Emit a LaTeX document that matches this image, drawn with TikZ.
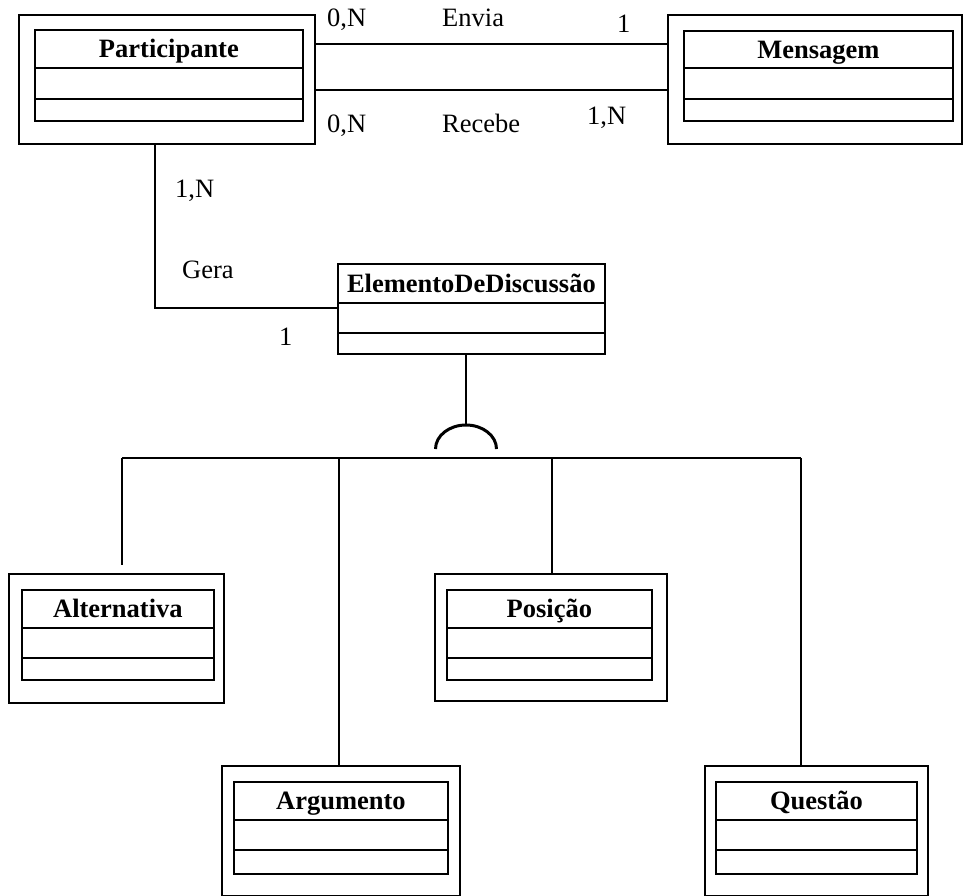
\documentclass[tikz,border=0pt]{standalone}
\usepackage{fontspec}
\setmainfont{Liberation Serif}
\usetikzlibrary{calc}

% outer frame of a class: name, left, top, right, bottom
\newcommand\classframe[5]{%
  \pgfmathsetmacro\clsFrameW{#4-#2}%
  \pgfmathsetmacro\clsFrameH{#5-#3}%
  \node[frame, minimum width=\clsFrameW pt, minimum height=\clsFrameH pt] (#1) at (#2,#3) {};}

% the three compartments: name, title, left, right, top, divider 1, divider 2, bottom
\newcommand\classcells[8]{%
  \pgfmathsetmacro\clsCellW{#4-#3}%
  \pgfmathsetmacro\clsCellHa{#6-#5}%
  \pgfmathsetmacro\clsCellHb{#7-#6}%
  \pgfmathsetmacro\clsCellHc{#8-#7}%
  \node[cell, title, minimum width=\clsCellW pt, minimum height=\clsCellHa pt] (#1-t) at (#3,#5) {#2};
  \node[cell, minimum width=\clsCellW pt, minimum height=\clsCellHb pt] (#1-a) at (#3,#6) {};
  \node[cell, minimum width=\clsCellW pt, minimum height=\clsCellHc pt] (#1-o) at (#3,#7) {};}

\begin{document}
\begin{tikzpicture}[x=1pt,y=-1pt,
  frame/.style={draw, line width=1.8pt, inner sep=0pt, anchor=north west},
  cell/.style={draw, line width=1.8pt, inner sep=0pt, anchor=north west,
    font=\fontsize{26.5}{30}\selectfont\bfseries},
  title/.style={text height=18pt, text depth=0pt},
  link/.style={line width=1.8pt},
  genarc/.style={line width=3pt},
  lbl/.style={anchor=base west, inner sep=0pt, font=\fontsize{26.5}{30}\selectfont}]

\useasboundingbox (0,0) rectangle (963,896);

% classes
\classframe{part}{18}{14}{314}{143}
\classcells{part}{Participante}{34}{302}{29}{67}{98}{120}

\classframe{msg}{667}{14}{961}{143}
\classcells{msg}{Mensagem}{683}{952}{30}{67}{98}{120}

\classcells{elem}{ElementoDeDiscussão}{337}{604}{263}{302}{332}{353}

\classframe{alt}{8}{573}{223}{702}
\classcells{alt}{Alternativa}{21}{213}{589}{627}{657}{679}

\classframe{pos}{434}{573}{666}{700}
\classcells{pos}{Posição}{446}{651}{589}{627}{657}{679}

\classframe{arg}{221}{765}{459}{895}
\classcells{arg}{Argumento}{233}{447}{781}{819}{849}{873}

\classframe{que}{704}{765}{927}{895}
\classcells{que}{Questão}{715}{916}{781}{819}{849}{873}

% associations Envia / Recebe
\draw[link] ($(part.north east)+(0,30)$) -- ($(msg.north west)+(0,30)$);
\draw[link] ($(part.north east)+(0,76)$) -- ($(msg.north west)+(0,76)$);

% association Gera
\draw[link] ($(part.south west)+(137,0)$) |- ($(elem-a.north west)+(0,6)$);

% labels
\node[lbl] (l-env-a) at (327,27) {0,N};
\node[lbl] (l-env)   at (442,27) {Envia};
\node[lbl] (l-env-b) at (617,33) {1};
\node[lbl] (l-rec-a) at (327,133) {0,N};
\node[lbl] (l-rec)   at (442,133) {Recebe};
\node[lbl] (l-rec-b) at (587,125) {1,N};
\node[lbl] (l-ger-a) at (175,197) {1,N};
\node[lbl] (l-ger)   at (182,278) {Gera};
\node[lbl] (l-ger-b) at (279,345) {1};

% generalization
\coordinate (gtop) at (466,425);
\draw[link] (elem-o.south -| gtop) -- (gtop);
\draw[genarc] ($(gtop)+(-30.5,24)$) arc[start angle=180, end angle=0, x radius=30.5pt, y radius=24pt];

\coordinate (dA) at (122,458);
\coordinate (dB) at (339,458);
\coordinate (dC) at (552,458);
\coordinate (dD) at (801,458);
\draw[link] (dA) -- (dD);
\draw[link] (dA) -- ($(alt.north -| dA)+(0,-8)$);
\draw[link] (dB) -- (arg.north -| dB);
\draw[link] (dC) -- (pos.north -| dC);
\draw[link] (dD) -- (que.north -| dD);

\end{tikzpicture}
\end{document}
